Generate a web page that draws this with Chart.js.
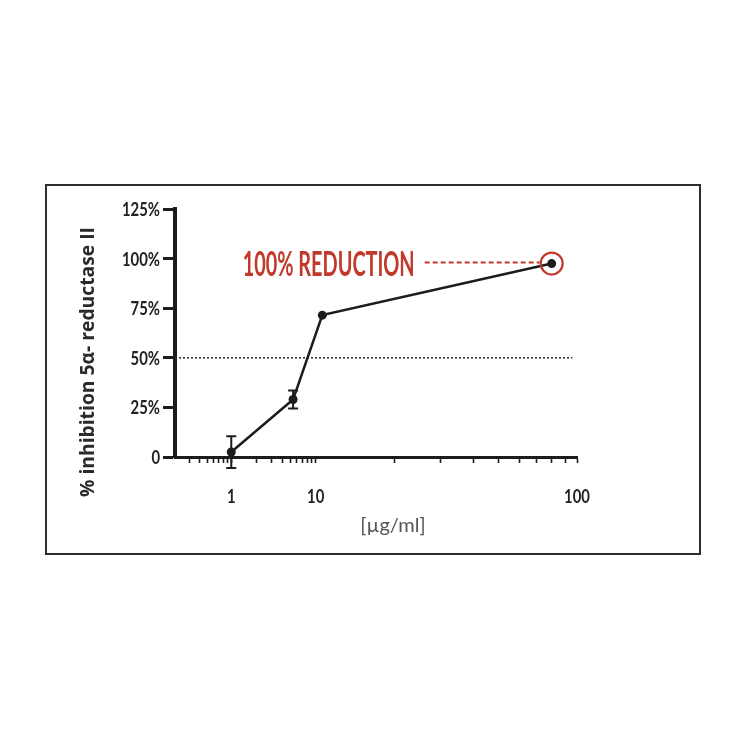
<!DOCTYPE html>
<html>
<head>
<meta charset="utf-8">
<script src="https://cdn.jsdelivr.net/npm/chart.js@4"></script>
<style>
  html, body { margin: 0; padding: 0; background: #fff; }
  #frame { position: absolute; left: 45px; top: 184px; width: 656px; height: 371px; box-sizing: border-box; border: 2px solid #2e2e2e; }
  #wrap { position: absolute; left: 0; top: 0; width: 744px; height: 744px; }
</style>
</head>
<body>
<div id="frame"></div>
<div id="wrap"><canvas id="c" width="744" height="744"></canvas></div>
<script>
// ── data ────────────────────────────────────────────────
const concentrations = [1, 5.4, 10.6, 80];        // µg/ml
const inhibition     = [2.5, 29, 71.5, 97.5];     // %
const inhibitionErr  = [8, 4.5, 0, 0];            // ± %
const halfLineX = [0.2, 96];
const halfLineY = [50, 50];
const yTickVals = [0, 25, 50, 75, 100, 125];
const xLabelVals = [1, 10, 100];
const xMinorVals = [0.3, 0.4, 0.5, 0.6, 0.7, 0.8, 0.9,
                    2, 3, 4, 5, 6, 7, 8, 9,
                    20, 30, 40, 50, 60, 70, 80, 90];

const RED = '#c1392b';
const INK = '#1c1c1c';
const CONDENSED = 'bold 19px Lato, "Liberation Sans", sans-serif';

// the original axis is log-like but its decades are not evenly spaced
const xAxisAnchors = [
  { v: 0.2, f: 0 },
  { v: 1,   f: 0.14 },
  { v: 10,  f: 0.35 },
  { v: 100, f: 1 },
];

class PiecewiseLogScale extends Chart.LogarithmicScale {
  _frac(v) {
    const a = xAxisAnchors;
    const lv = Math.log10(v);
    for (let i = 1; i < a.length; i++) {
      if (v <= a[i].v || i === a.length - 1) {
        const l0 = Math.log10(a[i - 1].v), l1 = Math.log10(a[i].v);
        return a[i - 1].f + (lv - l0) / (l1 - l0) * (a[i].f - a[i - 1].f);
      }
    }
    return 0;
  }
  getPixelForValue(v) {
    if (v === undefined || v === null || v <= 0) v = this.min;
    return this.getPixelForDecimal(this._frac(v));
  }
  getValueForPixel(p) {
    const f = this.getDecimalForPixel(p);
    const a = xAxisAnchors;
    for (let i = 1; i < a.length; i++) {
      if (f <= a[i].f || i === a.length - 1) {
        const l0 = Math.log10(a[i - 1].v), l1 = Math.log10(a[i].v);
        return Math.pow(10, l0 + (f - a[i - 1].f) / (a[i].f - a[i - 1].f) * (l1 - l0));
      }
    }
    return this.min;
  }
}
PiecewiseLogScale.id = 'pwlog';
PiecewiseLogScale.defaults = Chart.LogarithmicScale.defaults;
Chart.register(PiecewiseLogScale);

// text squeezed horizontally so that `ref` would be `refW` px wide
function squeezedText(ctx, text, x, y, align, sx) {
  ctx.save();
  ctx.translate(x, y);
  ctx.scale(sx, 1);
  ctx.textAlign = align;
  ctx.fillText(text, 0, 0);
  ctx.restore();
}

const errorBars = {
  id: 'errorBars',
  afterDatasetsDraw(chart) {
    const { ctx, scales: { x, y } } = chart;
    ctx.save();
    ctx.strokeStyle = INK;
    ctx.lineWidth = 2;
    concentrations.forEach((c, i) => {
      if (!inhibitionErr[i]) return;
      const px = x.getPixelForValue(c);
      const top = y.getPixelForValue(inhibition[i] + inhibitionErr[i]);
      const bot = y.getPixelForValue(inhibition[i] - inhibitionErr[i]);
      ctx.beginPath();
      ctx.moveTo(px, top); ctx.lineTo(px, bot);
      ctx.moveTo(px - 5, top); ctx.lineTo(px + 5, top);
      ctx.moveTo(px - 5, bot); ctx.lineTo(px + 5, bot);
      ctx.stroke();
    });
    ctx.restore();
  }
};

const tickLabels = {
  id: 'tickLabels',
  afterDraw(chart) {
    const { ctx, scales: { x, y } } = chart;
    ctx.save();
    ctx.font = CONDENSED;
    ctx.fillStyle = '#222';
    ctx.textBaseline = 'alphabetic';
    const sx = 38 / ctx.measureText('125%').width;
    y.ticks.forEach(t => {
      squeezedText(ctx, t.label, y.right - 15, y.getPixelForValue(t.value) + 7, 'right', sx);
    });
    x.ticks.forEach(t => {
      if (!t.label) return;
      squeezedText(ctx, t.label, x.getPixelForValue(t.value), x.top + 46, 'center', sx);
    });
    ctx.restore();
  }
};

const annotations = {
  id: 'annotations',
  afterDatasetsDraw(chart) {
    const { ctx, chartArea, scales: { x, y } } = chart;
    const last = concentrations.length - 1;
    const px = x.getPixelForValue(concentrations[last]);
    const py = y.getPixelForValue(inhibition[last]);
    ctx.save();
    // circle around the top point
    ctx.strokeStyle = RED;
    ctx.lineWidth = 2.2;
    ctx.beginPath();
    ctx.arc(px, py, 11, 0, Math.PI * 2);
    ctx.stroke();
    // dashed leader
    ctx.setLineDash([5, 3]);
    ctx.lineWidth = 2;
    ctx.beginPath();
    ctx.moveTo(px - 127, py - 1);
    ctx.lineTo(px - 12, py - 1);
    ctx.stroke();
    ctx.setLineDash([]);
    // label, squeezed to the condensed width of the original
    const label = '100% REDUCTION';
    ctx.font = 'bold 34px Lato, "Liberation Sans", sans-serif';
    ctx.fillStyle = RED;
    ctx.textBaseline = 'alphabetic';
    const w = ctx.measureText(label).width;
    squeezedText(ctx, label, px - 137 - 172, py + 12, 'left', 172 / w);
    ctx.restore();

    // y axis title
    ctx.save();
    ctx.translate(89, 362);
    ctx.rotate(-Math.PI / 2);
    ctx.font = 'bold 19px "Open Sans", sans-serif';
    ctx.fillStyle = '#2a2a2a';
    ctx.textBaseline = 'middle';
    const yt = '% inhibition 5\u03b1- reductase II';
    squeezedText(ctx, yt, 0, 0, 'center', 270 / ctx.measureText(yt).width);
    ctx.restore();

    // x axis title, sitting right of the axis centre as in the original
    ctx.save();
    ctx.font = '20px Lato, "Noto Sans", sans-serif';
    ctx.fillStyle = '#555';
    ctx.textAlign = 'center';
    ctx.textBaseline = 'middle';
    ctx.fillText('[\u00b5g/ml]', (chartArea.left + chartArea.right) / 2 + 17, 526);
    ctx.restore();
  }
};

new Chart(document.getElementById('c'), {
  type: 'line',
  data: {
    datasets: [
      {
        data: concentrations.map((c, i) => ({ x: c, y: inhibition[i] })),
        borderColor: INK,
        backgroundColor: INK,
        borderWidth: 2.5,
        pointRadius: 4.5,
        pointBackgroundColor: INK,
        pointBorderWidth: 0,
        clip: false,
        order: 1,
      },
      {
        data: halfLineX.map((v, i) => ({ x: v, y: halfLineY[i] })),
        borderColor: '#333',
        borderWidth: 1.6,
        borderDash: [2, 2],
        pointRadius: 0,
        clip: false,
        order: 2,
      },
    ],
  },
  options: {
    responsive: false,
    animation: false,
    devicePixelRatio: 1,
    layout: { padding: { left: 100, right: 167, top: 209, bottom: 197 } },
    plugins: { legend: { display: false }, tooltip: { enabled: false } },
    scales: {
      x: {
        type: 'pwlog',
        min: 0.2,
        max: 100,
        afterBuildTicks: s => {
          s.ticks = [...xMinorVals, ...xLabelVals].sort((a, b) => a - b).map(v => ({ value: v }));
        },
        afterFit: s => { s.height = 90; },
        border: { color: INK, width: 3 },
        grid: { drawOnChartArea: false, drawTicks: true, tickLength: 6, tickColor: INK, tickWidth: 1.6 },
        ticks: {
          autoSkip: false,
          maxRotation: 0,
          padding: 22,
          color: 'rgba(0,0,0,0)',
          font: { size: 18 },
          callback: v => xLabelVals.includes(v) ? String(v) : '',
        },
      },
      y: {
        min: 0,
        max: 125,
        afterBuildTicks: s => { s.ticks = yTickVals.map(v => ({ value: v })); },
        afterFit: s => { s.width = 75; },
        border: { color: INK, width: 4 },
        grid: { drawOnChartArea: false, drawTicks: true, tickLength: 12, tickColor: INK, tickWidth: 3 },
        ticks: {
          padding: 3,
          color: 'rgba(0,0,0,0)',
          font: { size: 19 },
          callback: v => v === 0 ? '0' : v + '%',
        },
      },
    },
  },
  plugins: [errorBars, annotations, tickLabels],
});
</script>
</body>
</html>
